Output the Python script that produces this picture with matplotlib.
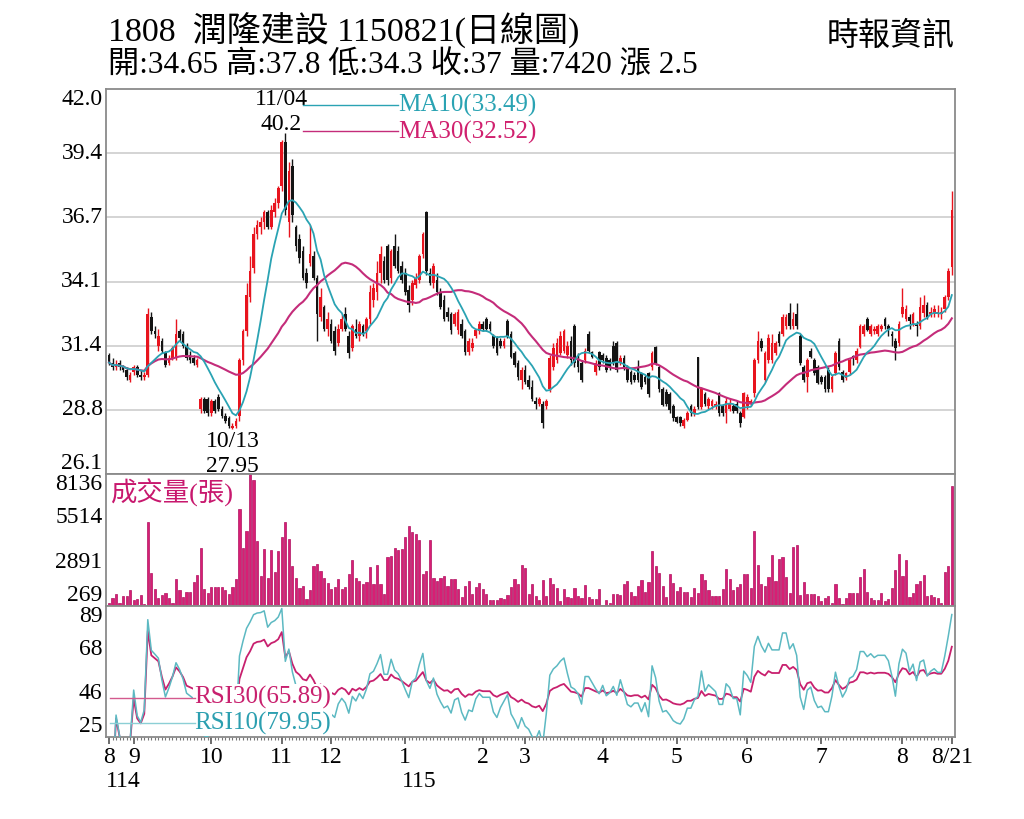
import numpy as np
import pandas as pd
import matplotlib
matplotlib.use('Agg')
import matplotlib.pyplot as plt
from matplotlib.transforms import blended_transform_factory

plt.rcParams['font.family'] = ['Liberation Serif', 'Noto Sans CJK TC', 'DejaVu Sans']

# daily candles, 114/08 .. 115/08/21
opens = [
    31.0, 30.7, 30.5, 30.7, 30.5, 30.4, 30.0, 30.3, 30.5, 30.2,
    30.1, 30.2, 32.6, 32.0, 31.4, 31.6, 31.1, 30.7, 30.9, 30.9,
    32.0, 31.9, 31.4, 31.0, 30.9, 30.6, 28.8, 29.2, 29.2, 28.6,
    29.1, 29.3, 28.8, 28.5, 28.4, 28.0, 28.1, 28.5, 30.8, 32.0,
    33.4, 34.6, 36.0, 36.3, 36.5, 36.9, 36.3, 36.9, 37.3, 38.0,
    39.8, 36.5, 38.8, 36.3, 35.8, 35.3, 34.4, 34.8, 35.1, 34.2,
    32.6, 33.0, 32.1, 32.3, 32.0, 31.5, 32.1, 32.7, 31.8, 31.3,
    32.1, 31.8, 32.2, 32.0, 32.5, 33.3, 33.6, 34.4, 34.9, 35.5,
    34.2, 35.5, 35.3, 34.7, 34.4, 33.7, 33.3, 33.9, 34.1, 35.2,
    36.9, 34.4, 34.0, 34.1, 33.6, 33.3, 32.8, 32.7, 32.3, 32.05,
    32.3, 32.0, 31.15, 31.3, 31.8, 32.0, 32.3, 32.5, 32.3, 31.8,
    31.7, 31.6, 31.4, 32.4, 31.9, 31.1, 30.7, 30.0, 30.4, 30.0,
    29.7, 29.1, 29.0, 29.0, 28.9, 29.6, 30.5, 30.8, 31.1, 31.2,
    31.0, 31.6, 32.2, 30.9, 30.7, 30.8, 31.9, 31.15, 30.3, 31.15,
    31.0, 30.9, 30.8, 31.4, 31.5, 30.7, 30.9, 30.5, 30.3, 30.2,
    30.5, 30.26, 30.1, 30.26, 30.5, 31.36, 30.5, 29.6, 29.5, 29.4,
    28.9, 28.47, 28.45, 28.1, 28.33, 28.9, 28.6, 30.95, 28.88, 29.4,
    28.9, 28.9, 28.9, 29.43, 28.9, 28.6, 28.8, 28.9, 29.0, 28.6,
    28.47, 28.9, 29.0, 29.43, 30.8, 31.6, 30.0, 30.8, 30.8, 31.1,
    31.9, 31.9, 32.2, 32.74, 32.2, 32.7, 31.8, 30.5, 30.1, 31.2,
    30.8, 30.5, 30.1, 30.1, 30.4, 29.6, 30.26, 31.6, 30.3, 30.05,
    30.3, 30.95, 30.8, 31.36, 31.9, 32.5, 31.9, 32.0, 31.9, 32.1,
    32.5, 32.2, 31.9, 31.6, 31.5, 32.7, 32.5, 32.6, 32.3, 32.3,
    32.2, 32.74, 33.1, 32.7, 32.7, 32.7, 32.7, 32.9, 33.4, 34.65,
]
highs = [
    31.1, 30.9, 30.8, 30.8, 30.6, 30.5, 30.3, 30.6, 30.6, 30.4,
    30.3, 32.95, 32.8, 32.2, 32.1, 31.7, 31.2, 31.0, 31.4, 32.5,
    32.1, 32.0, 31.5, 31.2, 31.0, 30.9, 29.3, 29.3, 29.3, 29.2,
    29.2, 29.4, 28.9, 28.6, 28.5, 28.2, 28.4, 30.9, 32.1, 34.0,
    35.1, 36.3, 36.6, 36.7, 37.0, 37.0, 37.2, 37.5, 38.0, 39.9,
    40.2, 39.0, 39.1, 36.4, 36.0, 35.5, 34.6, 36.4, 35.3, 34.3,
    33.8, 33.1, 32.8, 32.5, 32.2, 32.3, 32.7, 33.0, 32.0, 32.3,
    32.5, 32.4, 32.3, 32.6, 33.9, 34.0, 34.9, 35.5, 35.1, 35.6,
    35.4, 36.0, 35.5, 34.9, 34.6, 33.9, 34.1, 34.4, 35.2, 36.1,
    36.95, 34.6, 34.8, 34.4, 33.8, 33.5, 33.0, 32.8, 32.8, 32.9,
    32.5, 32.1, 31.7, 31.7, 32.1, 32.4, 32.4, 32.6, 32.4, 31.9,
    31.8, 31.7, 31.7, 32.5, 32.0, 31.2, 30.8, 30.5, 30.6, 30.2,
    30.0, 29.3, 29.3, 29.1, 29.2, 31.0, 31.5, 31.7, 32.0, 32.1,
    31.6, 31.8, 32.3, 31.1, 30.8, 31.3, 32.0, 31.2, 30.8, 31.2,
    31.1, 31.0, 30.9, 31.6, 31.6, 31.0, 31.0, 30.6, 30.4, 30.3,
    30.8, 30.3, 30.2, 30.3, 31.2, 31.4, 30.6, 29.7, 29.6, 29.5,
    29.0, 28.5, 28.5, 28.4, 28.7, 29.0, 28.9, 30.95, 29.7, 29.5,
    29.3, 29.2, 29.1, 29.5, 29.0, 29.3, 29.2, 29.0, 29.1, 28.7,
    29.5, 29.4, 29.2, 30.9, 32.0, 31.7, 31.2, 31.9, 31.9, 31.6,
    32.0, 32.7, 32.7, 33.15, 32.8, 33.15, 31.9, 30.6, 30.9, 31.3,
    30.9, 30.6, 30.2, 30.2, 30.5, 30.2, 31.2, 31.7, 30.4, 30.3,
    30.9, 31.0, 31.3, 32.3, 32.3, 32.6, 32.3, 32.2, 32.3, 32.3,
    32.6, 32.3, 32.0, 31.7, 32.4, 33.8, 33.1, 32.7, 32.8, 32.4,
    33.4, 33.5, 33.2, 33.0, 33.1, 33.1, 33.0, 33.5, 34.6, 37.8,
]
lows = [
    30.6, 30.4, 30.4, 30.4, 30.3, 30.0, 29.9, 30.2, 30.1, 30.0,
    30.0, 30.1, 31.9, 31.7, 31.2, 31.1, 30.5, 30.6, 30.8, 30.8,
    31.6, 31.3, 30.8, 30.7, 30.6, 30.5, 28.6, 28.6, 28.5, 28.5,
    28.6, 28.7, 28.4, 28.2, 28.0, 27.95, 28.0, 28.3, 30.6, 31.8,
    33.2, 34.4, 35.8, 36.0, 36.2, 36.2, 36.2, 36.7, 37.1, 37.8,
    36.8, 35.9, 36.5, 35.3, 34.8, 34.1, 33.8, 34.7, 34.1, 31.6,
    32.4, 32.0, 31.8, 31.5, 31.0, 31.4, 32.0, 32.0, 30.9, 31.2,
    31.7, 31.6, 31.8, 31.7, 32.3, 33.0, 33.3, 34.0, 34.0, 33.9,
    34.0, 34.6, 34.4, 34.0, 33.5, 32.8, 33.1, 33.8, 34.0, 35.0,
    34.3, 33.9, 33.8, 33.5, 32.9, 32.4, 32.4, 31.9, 32.2, 31.9,
    31.7, 31.0, 31.0, 31.2, 31.7, 31.9, 32.0, 32.0, 32.0, 31.3,
    31.0, 31.3, 31.3, 31.7, 30.9, 30.5, 30.0, 29.6, 29.8, 29.6,
    29.1, 28.8, 28.9, 28.0, 28.8, 29.5, 30.4, 30.7, 31.0, 31.1,
    30.9, 30.6, 30.5, 30.3, 29.9, 30.7, 31.1, 30.9, 30.2, 30.4,
    30.7, 30.3, 30.4, 30.6, 30.3, 30.6, 30.4, 29.9, 29.8, 29.9,
    29.9, 29.6, 29.8, 29.3, 30.4, 30.6, 29.5, 28.9, 28.9, 28.6,
    28.3, 28.2, 28.1, 28.0, 28.3, 28.5, 28.5, 28.8, 28.8, 28.9,
    28.8, 28.8, 28.8, 28.5, 28.5, 28.2, 28.7, 28.6, 28.6, 28.06,
    28.4, 28.8, 28.9, 29.3, 30.7, 31.2, 29.9, 30.7, 30.7, 31.0,
    31.4, 31.8, 32.1, 32.1, 32.1, 32.1, 30.6, 29.9, 29.5, 30.9,
    30.2, 29.8, 29.8, 29.5, 29.5, 29.5, 30.2, 30.4, 29.9, 30.0,
    30.2, 30.6, 30.7, 31.3, 31.8, 32.0, 31.8, 31.9, 31.8, 32.0,
    32.1, 31.8, 31.4, 30.8, 31.4, 32.6, 32.4, 32.1, 32.2, 31.8,
    32.1, 32.6, 32.5, 32.6, 32.6, 32.6, 32.5, 32.8, 33.3, 34.3,
]
closes = [
    30.7, 30.5, 30.6, 30.5, 30.4, 30.1, 30.2, 30.5, 30.2, 30.1,
    30.2, 32.7, 32.0, 31.9, 31.8, 31.2, 30.6, 30.9, 31.3, 31.9,
    31.7, 31.4, 30.9, 30.8, 30.7, 30.8, 29.2, 28.7, 28.6, 29.1,
    28.7, 28.8, 28.5, 28.3, 28.1, 28.1, 28.3, 30.8, 32.0, 33.5,
    34.5, 36.0, 36.4, 36.5, 36.9, 36.3, 37.0, 37.3, 37.9, 39.8,
    37.0, 38.6, 36.8, 35.5, 35.0, 34.2, 34.0, 35.2, 34.2, 32.7,
    33.4, 32.1, 32.5, 31.6, 31.2, 32.1, 32.5, 32.1, 31.1, 32.2,
    31.8, 32.3, 31.9, 32.5, 33.6, 33.8, 34.4, 35.2, 34.1, 34.1,
    35.3, 34.7, 34.5, 34.1, 33.6, 33.1, 34.0, 34.2, 35.1, 36.0,
    34.5, 34.0, 34.7, 33.6, 33.0, 32.5, 32.6, 32.05, 32.7, 32.8,
    31.8, 31.15, 31.6, 31.5, 32.05, 32.3, 32.1, 32.1, 32.1, 31.4,
    31.1, 31.4, 31.6, 31.8, 30.95, 30.6, 30.1, 30.4, 29.9, 29.7,
    29.2, 29.0, 29.2, 28.2, 29.1, 30.9, 31.3, 31.5, 31.8, 32.0,
    31.4, 30.8, 30.7, 30.5, 30.0, 31.2, 31.2, 30.95, 30.7, 30.5,
    30.8, 30.4, 30.5, 30.7, 30.4, 30.9, 30.5, 30.0, 29.9, 30.0,
    30.0, 29.7, 29.9, 29.4, 31.1, 30.67, 29.6, 28.95, 29.0, 28.74,
    28.4, 28.26, 28.2, 28.33, 28.6, 28.6, 28.8, 28.88, 29.6, 29.0,
    29.2, 29.1, 29.0, 28.6, 28.6, 29.1, 29.0, 28.7, 28.7, 28.2,
    29.43, 29.3, 29.1, 30.8, 31.6, 31.3, 31.1, 31.7, 31.5, 31.5,
    31.5, 32.6, 32.6, 32.2, 32.5, 32.2, 30.67, 29.98, 30.8, 30.95,
    30.26, 29.85, 29.9, 29.6, 29.6, 30.1, 31.1, 30.5, 30.0, 30.26,
    30.8, 30.9, 31.2, 32.2, 32.2, 32.05, 32.2, 32.1, 32.2, 32.2,
    32.2, 32.1, 31.8, 31.3, 32.3, 33.0, 32.9, 32.4, 32.7, 32.2,
    33.0, 33.1, 32.6, 32.8, 32.9, 32.8, 32.8, 33.4, 34.5, 37.0,
]
volumes = [
    468, 767, 1006, 468, 867, 867, 1245, 608, 667, 926,
    369, 5289, 2261, 1265, 727, 926, 1066, 767, 468, 1902,
    1205, 827, 1126, 1126, 1703, 2102, 3715, 1305, 1026, 1404,
    1404, 1404, 1404, 1205, 966, 1404, 1863, 6046, 3715, 4711,
    8136, 7779, 4153, 2062, 3655, 1962, 3596, 2321, 3556, 4353,
    5289, 4253, 2659, 1962, 1365, 1464, 667, 1205, 2659, 2799,
    2361, 1962, 1663, 1265, 1404, 1863, 1265, 1404, 2161, 2998,
    1962, 1763, 1564, 1703, 2620, 1564, 2699, 1564, 1006, 3197,
    3257, 3715, 3596, 3655, 4392, 5050, 4691, 4552, 4193, 2161,
    2361, 4193, 1922, 1763, 1962, 2062, 1464, 1863, 1902, 1265,
    827, 1464, 1763, 1006, 1404, 1663, 1265, 1006, 608, 608,
    608, 727, 667, 926, 1404, 1863, 1564, 2699, 2520, 1006,
    1564, 867, 608, 1803, 867, 1922, 1604, 1325, 568, 1265,
    807, 767, 1325, 867, 727, 1524, 807, 667, 667, 1265,
    309, 608, 428, 966, 1006, 926, 1604, 1763, 1126, 867,
    1464, 1803, 1126, 1703, 3556, 2659, 2261, 1464, 807, 2161,
    1663, 1165, 1404, 1126, 1126, 807, 1365, 1066, 2201, 1803,
    1205, 867, 867, 867, 1265, 2460, 1863, 1205, 1404, 1604,
    2201, 2201, 1325, 4751, 2719, 1604, 1464, 2002, 3297, 1763,
    3058, 3197, 2002, 1066, 3815, 3914, 926, 1703, 1006, 1006,
    1006, 867, 568, 727, 867, 468, 1604, 767, 369, 727,
    1066, 1066, 1066, 2002, 2500, 1126, 767, 608, 608, 1066,
    568, 667, 1365, 2400, 3357, 2062, 2998, 807, 1066, 1604,
    1763, 2102, 867, 926, 807, 767, 468, 2301, 2659, 7420,
]

month_pos = [0, 7, 29, 49, 63, 84, 106, 118, 140, 161, 181, 202, 225, 239]
month_lbl = ['8', '9', '10', '11', '12', '1', '2', '3', '4', '5', '6', '7', '8', '8/21']
year_pos = [0, 84]
year_lbl = ['114', '115']

price_ticks = [26.1, 28.75, 31.4, 34.05, 36.7, 39.35, 42.0]
price_lbls = ['26.1', '28.8', '31.4', '34.1', '36.7', '39.4', '42.0']
vol_ticks = [269, 2891, 5514, 8136]
rsi_ticks = [25, 46.33, 67.67, 89]
rsi_lbls = ['25', '46', '68', '89']

RED = '#e8141e'
BLK = '#141414'
TEAL = '#2aa3b3'
MAG = '#c42c7a'
VOLC = '#d81e74'
RSI10C = '#5cb9c2'
RSI30C = '#c8206e'
GRID = '#c9c9c9'
SPINE = '#8a8a8a'

o = np.array(opens)
h = np.array(highs)
l = np.array(lows)
c = np.array(closes)
v = np.array(volumes)
x = np.arange(len(c))

cs = pd.Series(c)
ma10 = cs.rolling(10, min_periods=1).mean()
ma30 = cs.rolling(30, min_periods=1).mean()


def rsi(series, n):
    d = series.diff()
    g = d.clip(lower=0).ewm(alpha=1 / n, adjust=True).mean()
    q = (-d).clip(lower=0).ewm(alpha=1 / n, adjust=True).mean()
    return 100 * g / (g + q)


rsi10 = rsi(cs, 10)
rsi30 = rsi(cs, 30)

W, H = 1024, 819
fig = plt.figure(figsize=(W / 100, H / 100), dpi=100)
L, R = 106, 955
ax1 = fig.add_axes([L / W, 1 - 474 / H, (R - L) / W, (474 - 89) / H])
ax2 = fig.add_axes([L / W, 1 - 606 / H, (R - L) / W, (606 - 474) / H])
ax3 = fig.add_axes([L / W, 1 - 737 / H, (R - L) / W, (737 - 606) / H])

xlim = (-0.85, 239.9)
for ax in (ax1, ax2, ax3):
    ax.set_xlim(*xlim)
    ax.set_yticks([])
    ax.tick_params(which='both', bottom=False, labelbottom=False, left=False)
    for s in ax.spines.values():
        s.set_color(SPINE)
        s.set_linewidth(1.3)

# price panel
ax1.set_ylim(26.1, 42.0)
for t in price_ticks[1:-1]:
    ax1.axhline(t, color=GRID, lw=1.1, zorder=0)
up = c >= o
col = np.where(up, RED, BLK)
ax1.vlines(x, l, h, colors=col, lw=1.0, zorder=2)
body = np.maximum(np.abs(c - o), 0.06)
ax1.bar(x, body, bottom=np.minimum(o, c), width=0.75, color=col, zorder=3)
ax1.plot(x, ma30, color=MAG, lw=1.5, zorder=4)
ax1.plot(x, ma10, color=TEAL, lw=1.3, zorder=5)

hi_i = int(np.argmax(h))
lo_i = int(np.argmin(l))
ax1.annotate('40.2', xy=(hi_i, h[hi_i]), xytext=(-3, -2), textcoords='offset points',
             ha='center', va='bottom', fontsize=17)
ax1.annotate('11/04', xy=(hi_i, h[hi_i]), xytext=(-3, 16), textcoords='offset points',
             ha='center', va='bottom', fontsize=17)
ax1.annotate('10/13', xy=(lo_i, l[lo_i]), xytext=(0, -1), textcoords='offset points',
             ha='center', va='top', fontsize=17)
ax1.annotate('27.95', xy=(lo_i, l[lo_i]), xytext=(0, -19), textcoords='offset points',
             ha='center', va='top', fontsize=17, annotation_clip=False)

# MA legend
fig.add_artist(plt.Line2D([303 / W, 398 / W], [1 - 105 / H] * 2, color=TEAL, lw=1))
fig.add_artist(plt.Line2D([303 / W, 398 / W], [1 - 131 / H] * 2, color=MAG, lw=1))
fig.text(398 / W, 1 - 105 / H, 'MA10(33.49)', color=TEAL, fontsize=18, va='center')
fig.text(398 / W, 1 - 132 / H, 'MA30(32.52)', color='#d0206e', fontsize=18, va='center')

# volume panel
ax2.set_ylim(269, 8136)
ax2.bar(x, v, width=0.62, color=VOLC, edgecolor='#b01060', lw=0.5, zorder=2)
ax2.text(4 / (R - L), 0.855, '成交量(張)', transform=ax2.transAxes, color='#c8186e',
         fontsize=19, va='center', ha='left', zorder=5)

# rsi panel
ax3.set_ylim(25, 89)
ax3.plot(x, rsi30, color=RSI30C, lw=1.3, zorder=2)
ax3.plot(x, rsi10, color=RSI10C, lw=1.1, zorder=3)
fig.add_artist(plt.Line2D([110 / W, 195 / W], [1 - 698 / H] * 2, color='#d35a8e', lw=1, zorder=6))
fig.add_artist(plt.Line2D([110 / W, 195 / W], [1 - 723 / H] * 2, color='#8ccfd5', lw=1, zorder=6))
ax3.text((194 - L) / (R - L), 1 - (697 - 606) / 131, 'RSI30(65.89)', transform=ax3.transAxes,
         color=RSI30C, fontsize=18, va='center', ha='left', zorder=6,
         bbox=dict(fc='white', ec='none', pad=1))
ax3.text((194 - L) / (R - L), 1 - (723 - 606) / 131, 'RSI10(79.95)', transform=ax3.transAxes,
         color='#2c9fb0', fontsize=18, va='center', ha='left', zorder=6,
         bbox=dict(fc='white', ec='none', pad=1))


def ylabels(ax, ticks, labels):
    lo, hi = ticks[0], ticks[-1]
    tr = blended_transform_factory(ax.transAxes, ax.transData)
    for t, s in zip(ticks, labels):
        va = 'top' if t == hi else ('bottom' if t == lo else 'center')
        ax.text(-0.004, t, s, transform=tr, ha='right', va=va, fontsize=17)


ylabels(ax1, price_ticks, price_lbls)
ylabels(ax2, vol_ticks, [str(t) for t in vol_ticks])
ylabels(ax3, rsi_ticks, rsi_lbls)

# x axis
ax3.set_xticks(month_pos)
ax3.set_xticklabels(month_lbl, fontsize=17)
ax3.set_xticks(x, minor=True)
ax3.tick_params(which='major', bottom=True, labelbottom=True, length=5, width=1.2,
                color='#555555', pad=2)
ax3.tick_params(which='minor', bottom=True, length=2.5, width=0.8, color='#777777')
trx = blended_transform_factory(ax3.transData, ax3.transAxes)
for p, s in zip(year_pos, year_lbl):
    ax3.text(p - 0.8, -0.34, s, transform=trx, ha='left', va='center', fontsize=17)

# header
fig.text(108 / W, 1 - 31 / H, '1808  潤隆建設 1150821(日線圖)', fontsize=24.5, va='center')
fig.text(955 / W, 1 - 37 / H, '時報資訊', fontsize=23, va='center', ha='right')
fig.text(108 / W, 1 - 66 / H, '開:34.65 高:37.8 低:34.3 收:37 量:7420 漲 2.5',
         fontsize=22.5, va='center')

fig.savefig('out.png', dpi=100, facecolor='white')
